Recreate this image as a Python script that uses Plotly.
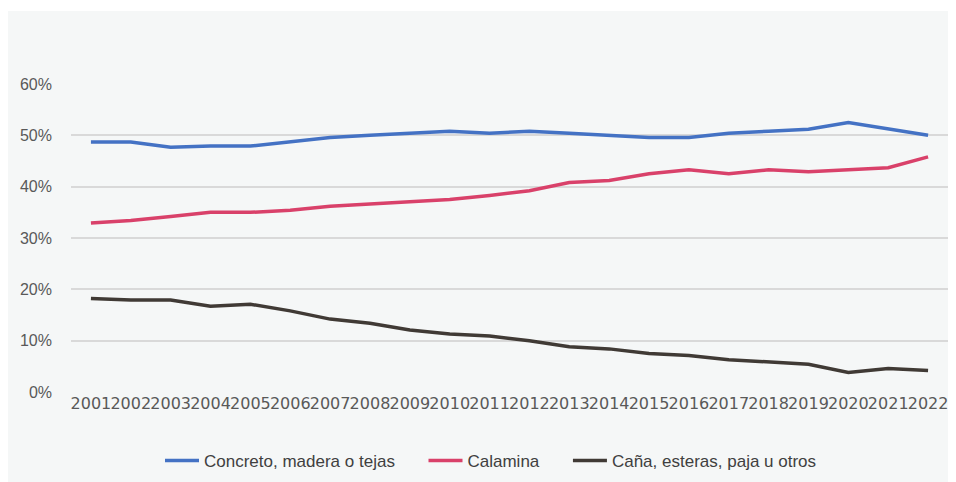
import plotly.graph_objects as go

years = [str(y) for y in range(2001, 2023)]
concreto = [48.7, 48.7, 47.7, 47.9, 47.9, 48.8, 49.6, 50.0, 50.4, 50.8, 50.4,
            50.8, 50.4, 50.0, 49.6, 49.6, 50.4, 50.8, 51.2, 52.5, 51.2, 50.0]
calamina = [32.9, 33.4, 34.2, 35.0, 35.0, 35.4, 36.2, 36.6, 37.1, 37.5, 38.3,
            39.2, 40.8, 41.2, 42.5, 43.3, 42.5, 43.3, 42.9, 43.3, 43.7, 45.8]
cana = [18.2, 17.9, 17.9, 16.7, 17.1, 15.8, 14.2, 13.4, 12.1, 11.3, 10.9,
        10.0, 8.8, 8.4, 7.5, 7.1, 6.3, 5.9, 5.4, 3.8, 4.6, 4.2]
names = ["Concreto, madera o tejas", "Calamina", "Caña, esteras, paja u otros"]
colors = ["#4472C4", "#D9416A", "#403A35"]

pad = "\u00a0" * 5
fig = go.Figure()
for i, (name, vals, col) in enumerate(zip(names, [concreto, calamina, cana], colors)):
    label = name + (pad if i < len(names) - 1 else "")
    fig.add_trace(go.Scatter(x=years, y=[v / 100 for v in vals], name=label, mode="lines",
                             line=dict(color=col, width=3.5)))

# page has an 8px body margin; work in page coordinates and convert
OFF = 8
W, H = 956 - OFF, 482 - OFF
L = 71 - OFF
R = W - (948 - OFF)
T = 84 - OFF
B = H - (392 - OFF)
pw, ph = W - L - R, H - T - B

def px(xp):
    return (xp - OFF - L) / pw

def py(yp):
    return (H - B - (yp - OFF)) / ph

fig.add_shape(type="rect", xref="paper", yref="paper",
              x0=px(0), x1=px(960), y0=py(490), y1=py(11),
              fillcolor="#F5F7F7", line=dict(width=0), layer="below")

font = "Liberation Sans, Arial, sans-serif"
fig.update_layout(
    width=W, height=H,
    margin=dict(l=L, r=R, t=T, b=B, autoexpand=False),
    paper_bgcolor="white", plot_bgcolor="rgba(0,0,0,0)",
    font=dict(family=font, size=16, color="#595959"),
    showlegend=True,
    legend=dict(orientation="h", x=px(491), xanchor="center", y=py(461), yanchor="middle",
                font=dict(size=17, color="#404040"), bgcolor="rgba(0,0,0,0)",
                itemwidth=34, tracegroupgap=0),
    xaxis=dict(type="category", showgrid=False, zeroline=False, showline=False,
               automargin=False,
               ticks="", tickfont=dict(family="DejaVu Sans", size=16, color="#595959"),
               tickangle=0, range=[-0.5, len(years) - 0.5]),
    yaxis=dict(range=[0, 0.6], dtick=0.1, tickformat=".0%", showgrid=True,
               automargin=False,
               gridcolor="#D9D9D9", gridwidth=1.5, zeroline=False, showline=False,
               ticks="", ticklen=0, ticklabelstandoff=18,
               tickfont=dict(size=16, color="#595959")),
    hovermode=False,
)
fig.write_html("out.html")
